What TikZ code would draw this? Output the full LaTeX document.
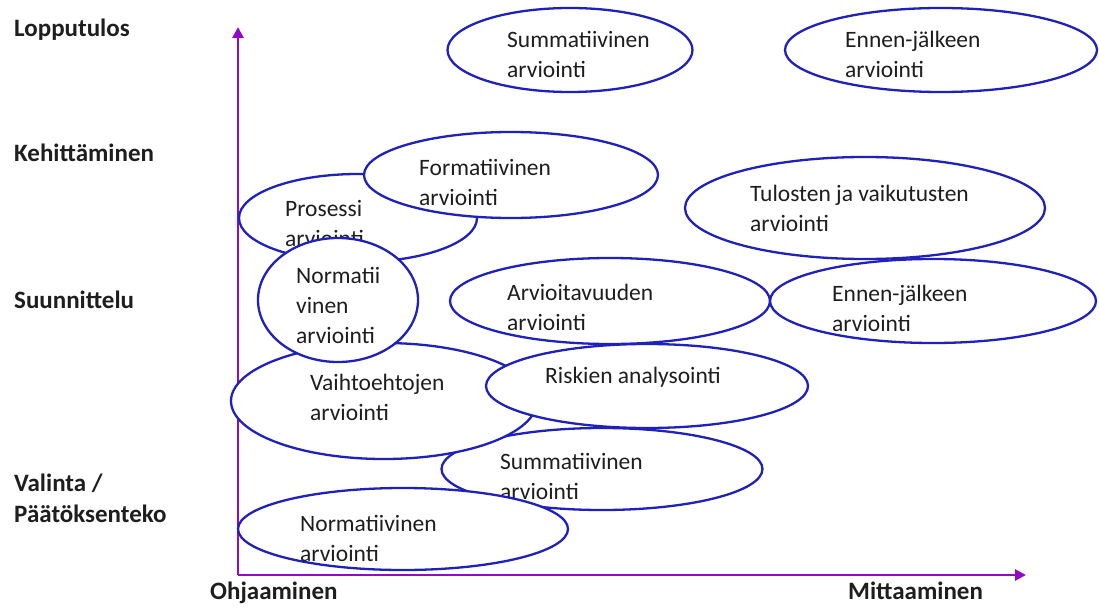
\documentclass[tikz,border=0pt]{standalone}
\usepackage{fontspec}
\setmainfont{Carlito}
\usetikzlibrary{shapes.geometric,arrows.meta}
\definecolor{axiscol}{RGB}{145,10,200}
\definecolor{ringcol}{RGB}{32,32,188}
\definecolor{txtcol}{RGB}{30,30,30}
\tikzset{
  oval/.style={ellipse, draw=ringcol, line width=2.3pt, fill=white, inner sep=0pt},
  lbl/.style={anchor=west, align=left, inner sep=0pt, text=txtcol, font=\fontsize{23.5}{30}\selectfont},
  stage/.style={anchor=west, align=left, inner sep=0pt, text=txtcol, font=\fontsize{25}{31}\selectfont\bfseries},
  axis/.style={draw=axiscol, line width=2.8pt, -{Triangle[length=11pt,width=11pt]}}
}
\begin{document}
\begin{tikzpicture}[x=1pt,y=-1pt]
\useasboundingbox (0,0) rectangle (1099,607);

% axes
\coordinate (o) at (238,575);
\coordinate (ytop) at (238,27);
\coordinate (xend) at (1026,575);
\draw[axis] (o) -- (ytop);
\draw[axis] (o) -- (xend);

% stage labels
\node[stage] (s1) at (14,30) {Lopputulos};
\node[stage] (s2) at (14,153) {Kehittäminen};
\node[stage] (s3) at (14,300) {Suunnittelu};
\node[stage] (s4) at (14,498) {Valinta /\\Päätöksenteko};
\node[stage, anchor=base west] (xl) at (210,599) {Ohjaaminen};
\node[stage, anchor=base west] (xr) at (848,599) {Mittaaminen};

% lower cluster
\node[oval, minimum width=321, minimum height=82] (sumB) at (602,469) {};
\node[lbl] (sumBt) at (500,476) {Summatiivinen\\arviointi};
\node[oval, minimum width=306, minimum height=116] (vaih) at (384,401) {};
\node[lbl] (vaiht) at (310,397) {Vaihtoehtojen\\arviointi};
\node[oval, minimum width=322, minimum height=84] (risk) at (647,386) {};
\node[lbl] (riskt) at (545,377) {Riskien analysointi};
\node[oval, minimum width=330, minimum height=82] (normB) at (403,529) {};
\node[lbl] (normBt) at (300,538) {Normatiivinen\\arviointi};

% development cluster
\node[oval, minimum width=238, minimum height=88] (pros) at (358,218) {};
\node[lbl] (prost) at (285,224) {Prosessi\\arviointi};
\node[oval, minimum width=294, minimum height=86] (form) at (511,175) {};
\node[lbl] (formt) at (419,182) {Formatiivinen\\arviointi};
\node[oval, minimum width=160, minimum height=124] (normC) at (338,300) {};
\node[lbl] (normCt) at (296,305) {Normatii\\vinen\\arviointi};

% planning row
\node[oval, minimum width=320, minimum height=86] (arv) at (610,301) {};
\node[lbl] (arvt) at (507,307) {Arvioitavuuden\\arviointi};
\node[oval, minimum width=326, minimum height=84] (ennM) at (933,301) {};
\node[lbl] (ennMt) at (832,308) {Ennen-jälkeen\\arviointi};
\node[oval, minimum width=360, minimum height=102] (tul) at (865,208) {};
\node[lbl] (tult) at (750,208) {Tulosten ja vaikutusten\\arviointi};

% outcome row
\node[oval, minimum width=245, minimum height=84] (sumT) at (570,50) {};
\node[lbl] (sumTt) at (507,54) {Summatiivinen\\arviointi};
\node[oval, minimum width=312, minimum height=84] (ennT) at (941,50) {};
\node[lbl] (ennTt) at (845,54) {Ennen-jälkeen\\arviointi};
\end{tikzpicture}
\end{document}
